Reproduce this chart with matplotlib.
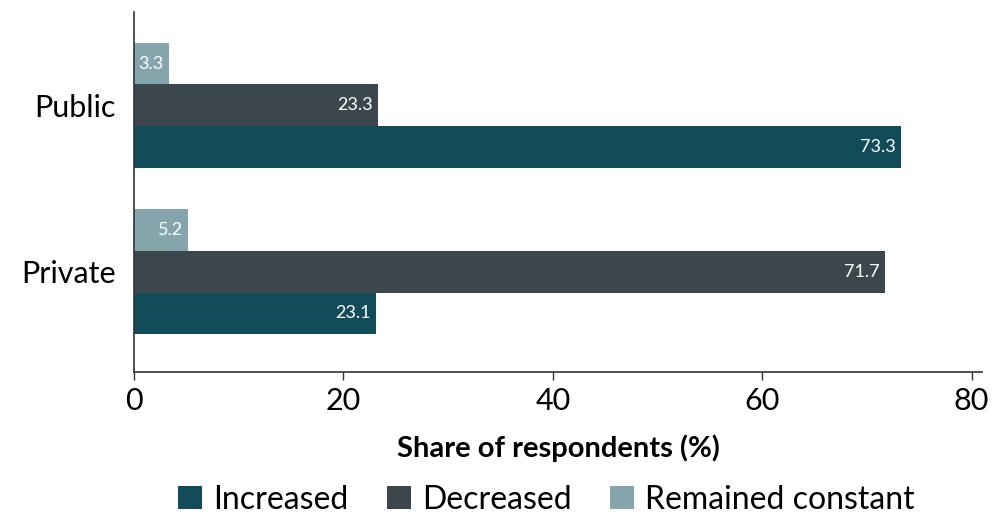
import matplotlib
matplotlib.use("Agg")
import matplotlib.pyplot as plt
from matplotlib.patches import Patch
from matplotlib.transforms import offset_copy

plt.rcParams['font.family'] = ['Lato', 'DejaVu Sans']

categories = ["Private", "Public"]
series_names = ["Increased", "Decreased", "Remained constant"]
increased = [23.1, 73.3]
decreased = [71.7, 23.3]
remained = [5.2, 3.3]
colors = ["#124b5a", "#3b474c", "#84a5ac"]
x_ticks = [0, 20, 40, 60, 80]

fig = plt.figure(figsize=(9.93, 5.2), dpi=100)
ax = fig.add_axes([0.135, 0.285, 0.854, 0.692])

bar_h = 0.25
offsets = [-bar_h, 0.0, bar_h]
series = [increased, decreased, remained]
for vals, off, col in zip(series, offsets, colors):
    ys = [i + off for i in range(len(categories))]
    ax.barh(ys, vals, height=bar_h, color=col, edgecolor='none')
    lab_tr = offset_copy(ax.transData, fig=fig, x=-4, y=0, units='points')
    for y, v in zip(ys, vals):
        ax.text(v, y, f"{v}", ha='right', va='center', color='white',
                fontsize=13, transform=lab_tr)

ax.set_yticks(range(len(categories)))
ax.set_yticklabels(categories, fontsize=22)
ax.set_xticks(x_ticks)
ax.set_xticklabels([str(t) for t in x_ticks], fontsize=22)
ax.set_xlim(0, 81)
ax.set_ylim(-0.6, 1.56)
ax.tick_params(axis='y', length=0, pad=13)
ax.tick_params(axis='x', length=6, width=1, color='#333333', pad=5)
for s in ['top', 'right']:
    ax.spines[s].set_visible(False)
for s in ['left', 'bottom']:
    ax.spines[s].set_color('#333333')
    ax.spines[s].set_linewidth(1.2)

ax.set_xlabel("Share of respondents (%)", fontsize=21, fontweight='bold', labelpad=14)

handles = [Patch(facecolor=c, edgecolor='none') for c in colors]
fig.legend(handles, series_names, loc='lower center', bbox_to_anchor=(0.55, -0.045),
           ncol=3, frameon=False, fontsize=23, handlelength=0.75, handleheight=0.75,
           handletextpad=0.35, columnspacing=1.2)

fig.savefig("out.png", dpi=100)
